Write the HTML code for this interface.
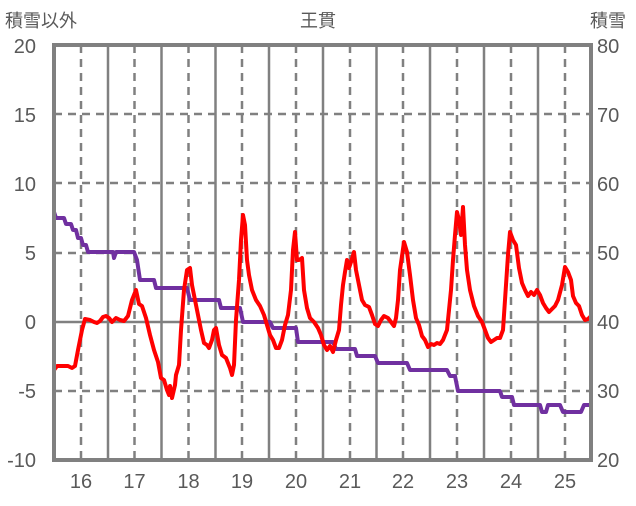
<!DOCTYPE html>
<html><head><meta charset="utf-8"><style>
body{margin:0;background:#fff}
svg text{font-family:"Liberation Sans","Noto Sans CJK JP",sans-serif;fill:#595959}
</style></head><body>
<svg width="636" height="501" viewBox="0 0 636 501">
<g stroke="#808080" stroke-width="2.5">
<g stroke-dasharray="8,6">
<line x1="54" y1="114" x2="591" y2="114"/><line x1="54" y1="183" x2="591" y2="183"/><line x1="54" y1="253" x2="591" y2="253"/><line x1="54" y1="391" x2="591" y2="391"/>
<line x1="81" y1="45" x2="81" y2="460"/><line x1="134.5" y1="45" x2="134.5" y2="460"/><line x1="188.5" y1="45" x2="188.5" y2="460"/><line x1="242" y1="45" x2="242" y2="460"/><line x1="296" y1="45" x2="296" y2="460"/><line x1="350" y1="45" x2="350" y2="460"/><line x1="403" y1="45" x2="403" y2="460"/><line x1="457" y1="45" x2="457" y2="460"/><line x1="511" y1="45" x2="511" y2="460"/><line x1="565" y1="45" x2="565" y2="460"/>
</g>
<line x1="54" y1="322" x2="591" y2="322"/>
<line x1="108" y1="45" x2="108" y2="460"/><line x1="161.5" y1="45" x2="161.5" y2="460"/><line x1="215.5" y1="45" x2="215.5" y2="460"/><line x1="269" y1="45" x2="269" y2="460"/><line x1="323" y1="45" x2="323" y2="460"/><line x1="376.5" y1="45" x2="376.5" y2="460"/><line x1="430" y1="45" x2="430" y2="460"/><line x1="484" y1="45" x2="484" y2="460"/><line x1="538" y1="45" x2="538" y2="460"/>
</g>
<polyline fill="none" stroke="#7030A0" stroke-width="4" stroke-linejoin="round" points="54,212 56,218 64,218 66,224 71,224 73,230 76,230 78,238 81,238 83,245 86,245 88,252 113,252 114,258 116,252 134,252 137,260 140,280 154,280 156,288 187,288 190,300 219,300 221,308 240,308 243,322 270,322 273,328 296,328 298,342 333,342 336,349 355,349 357,356 375,356 378,363 407,363 410,370 447,370 450,376 455,376 458,391 500,391 502,397 512,397 514,405 540,405 542,412 546,412 548,405 560,405 563,412 581,412 584,405 591,405"/>
<polyline fill="none" stroke="#FF0000" stroke-width="4" stroke-linejoin="round" points="54,370 57,366 62,366 68,366 72,368 75,366 78,350 82,330 85,319 90,320 94,322 97,323 100,321 103,317 106,316 109,318 112,322 116,318 120,320 124,321 128,316 132,300 136,290 139,304 142,306 146,318 150,335 154,350 158,362 161,378 164,380 167,390 169,395 170,386 172,398 175,385 176,375 179,365 181,330 184,290 187,270 190,268 192,285 195,300 198,315 201,330 204,343 207,345 209,348 212,340 214,330 216,328 219,345 222,355 226,358 230,368 232,375 234,365 236,320 239,280 241,240 243,215 245,225 247,260 249,275 252,290 256,300 260,306 264,315 267,325 270,335 273,340 276,348 279,348 282,340 285,325 288,315 291,290 293,250 295,232 297,260 299,260 302,258 304,290 307,308 310,318 314,322 318,328 321,335 324,345 327,350 330,346 333,352 336,340 339,330 341,305 343,285 345,272 347,260 349,268 351,262 354,252 356,270 359,285 362,300 365,305 369,307 372,315 375,324 378,326 381,320 384,316 388,318 391,322 394,326 396,318 398,300 400,270 404,242 407,252 410,275 413,300 416,318 419,325 422,336 425,340 428,347 431,344 434,345 437,343 440,344 443,340 445,335 447,330 449,310 451,290 453,260 455,235 457,212 459,220 461,235 463,207 465,245 467,270 470,290 474,306 478,316 482,322 485,330 488,338 491,342 494,340 497,338 500,338 503,330 505,300 508,255 510,232 513,240 516,245 519,268 522,283 525,290 528,296 531,292 534,295 537,290 540,295 543,303 546,308 549,312 552,309 555,306 558,300 562,285 565,267 568,272 571,280 573,296 576,303 579,306 582,315 585,320 588,319 591,316"/>
<rect x="54" y="45" width="537" height="415" fill="none" stroke="#808080" stroke-width="4"/>
<g font-size="20" text-anchor="end">
<text x="36" y="53">20</text><text x="36" y="122">15</text><text x="36" y="191">10</text><text x="36" y="260">5</text><text x="36" y="329">0</text><text x="36" y="398">-5</text><text x="36" y="467">-10</text>
</g>
<g font-size="20" text-anchor="start">
<text x="597" y="53">80</text><text x="597" y="122">70</text><text x="597" y="191">60</text><text x="597" y="260">50</text><text x="597" y="329">40</text><text x="597" y="398">30</text><text x="597" y="467">20</text>
</g>
<g font-size="20" text-anchor="middle">
<text x="81" y="488">16</text><text x="134.5" y="488">17</text><text x="188.5" y="488">18</text><text x="242" y="488">19</text><text x="296" y="488">20</text><text x="350" y="488">21</text><text x="403" y="488">22</text><text x="457" y="488">23</text><text x="511" y="488">24</text><text x="565" y="488">25</text>
</g>
<text x="5" y="27" font-size="18">積雪以外</text>
<text x="318" y="27" font-size="18" text-anchor="middle">王貫</text>
<text x="590" y="27" font-size="18">積雪</text>
</svg>
</body></html>
